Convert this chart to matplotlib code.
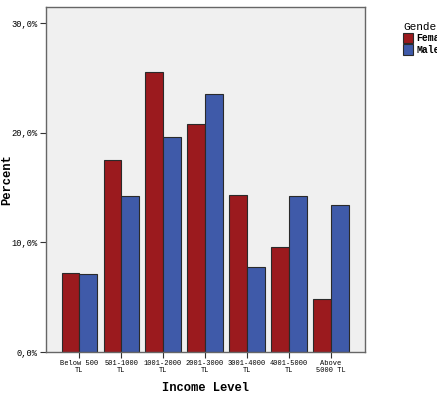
import matplotlib.pyplot as plt
import numpy as np
from matplotlib.ticker import FuncFormatter

# data
income_levels = ["Below 500\nTL", "501-1000\nTL", "1001-2000\nTL", "2001-3000\nTL",
                 "3001-4000\nTL", "4001-5000\nTL", "Above\n5000 TL"]
female_pct = [7.2, 17.5, 25.6, 20.8, 14.3, 9.6, 4.8]
male_pct = [7.1, 14.2, 19.6, 23.6, 7.8, 14.2, 13.4]
y_ticks = [0, 10, 20, 30]

font = "Liberation Mono"
red = "#9b1a1e"
blue = "#3f5aa9"

fig = plt.figure(figsize=(4.37, 4.01), dpi=100)
ax = fig.add_axes([46 / 437, 49 / 401, 319 / 437, 345 / 401])
ax.set_facecolor("#f0f0f0")

x = np.arange(len(income_levels))
width = 0.42
ax.bar(x - width / 2, female_pct, width, color=red, edgecolor="#2a2a2a",
       linewidth=0.8, label="Female")
ax.bar(x + width / 2, male_pct, width, color=blue, edgecolor="#2a2a2a",
       linewidth=0.8, label="Male")

ax.set_xlim(-0.79, 6.81)
ax.set_ylim(0, 31.5)
ax.set_yticks(y_ticks)
ax.yaxis.set_major_formatter(FuncFormatter(lambda v, p: f"{v:.1f}%".replace(".", ",")))
ax.set_xticks(x, income_levels)

for lab in ax.get_xticklabels():
    lab.set_fontfamily(font)
    lab.set_fontsize(5)
    lab.set_linespacing(0.9)
for lab in ax.get_yticklabels():
    lab.set_fontfamily(font)
    lab.set_fontsize(6.3)

ax.tick_params(axis="both", length=4, width=0.8, color="#333333", pad=2)
for s in ax.spines.values():
    s.set_color("#666666")
    s.set_linewidth(1.0)

ax.set_xlabel("Income Level", fontfamily=font, fontsize=8.7, fontweight="bold", labelpad=6)
ax.set_ylabel("Percent", fontfamily=font, fontsize=8.7, fontweight="bold")
ax.yaxis.set_label_coords((13 - 46) / 319, 0.5)

# legend sits at the right edge, partly cut off like in the source image
leg = fig.legend(loc="upper left", bbox_to_anchor=(399 / 437, 1 - 18 / 401),
                 frameon=False, title="Gender", alignment="left",
                 prop={"family": font, "size": 7, "weight": "bold"},
                 handlelength=1.0, handleheight=1.3, handletextpad=0.4,
                 labelspacing=0.1, borderaxespad=0)
leg.get_title().set_fontfamily(font)
leg.get_title().set_fontsize(8)

plt.savefig("out.png", dpi=100)
